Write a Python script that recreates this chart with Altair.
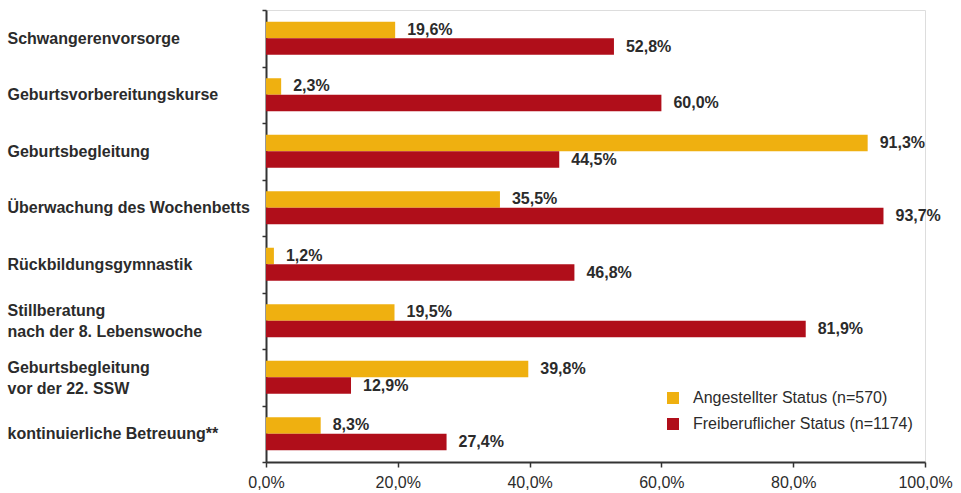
import altair as alt
import pandas as pd

categories = [
    "Schwangerenvorsorge",
    "Geburtsvorbereitungskurse",
    "Geburtsbegleitung",
    "Überwachung des Wochenbetts",
    "Rückbildungsgymnastik",
    "Stillberatung|nach der 8. Lebenswoche",
    "Geburtsbegleitung|vor der 22. SSW",
    "kontinuierliche Betreuung**",
]
series = ["Angestellter Status (n=570)", "Freiberuflicher Status (n=1174)"]
angestellt = [19.6, 2.3, 91.3, 35.5, 1.2, 19.5, 39.8, 8.3]
freiberuflich = [52.8, 60.0, 44.5, 93.7, 46.8, 81.9, 12.9, 27.4]
colors = ["#EFB010", "#B00E1A"]
x_ticks = [0, 20, 40, 60, 80, 100]

rows = []
for c, a, f in zip(categories, angestellt, freiberuflich):
    for s, v in zip(series, [a, f]):
        rows.append({"cat": c, "status": s, "value": v,
                     "label": f"{v:.1f}".replace(".", ",") + "%"})
df = pd.DataFrame(rows)

FONT = "Liberation Sans"
TXT = "#2b2b2b"

y_enc = alt.Y("cat:N", sort=categories,
              scale=alt.Scale(paddingInner=0, paddingOuter=0),
              axis=alt.Axis(title=None, orient="left", labelAlign="left",
                            labelPadding=255, tickSize=4, tickBand="extent",
                            labelFont=FONT, labelFontSize=16, labelFontWeight="bold",
                            labelColor=TXT, labelBaseline="middle", labelLineHeight=21,
                            labelLimit=400,
                            labelOffset=alt.condition("indexof(datum.label, '|') >= 0",
                                                      alt.value(-10), alt.value(0)),
                            labelExpr="split(datum.label, '|')",
                            domainColor="#333333", domainWidth=2,
                            tickColor="#333333", tickWidth=1.5, grid=False))
yoff = alt.YOffset("status:N", sort=series,
                   scale=alt.Scale(paddingInner=0, paddingOuter=0.71))
x_enc = alt.X("value:Q",
              scale=alt.Scale(domain=[0, 100], nice=False),
              axis=alt.Axis(title=None, values=x_ticks, tickSize=5, labelPadding=7,
                            labelFlush=False, labelOverlap=False,
                            labelFont=FONT, labelFontSize=16, labelColor=TXT,
                            labelExpr="replace(format(datum.value, '.1f'), '.', ',') + '%'",
                            domainColor="#333333", domainWidth=2,
                            tickColor="#333333", tickWidth=1.5, grid=False))

bars = alt.Chart(df).mark_bar(size=16.5).encode(
    x=x_enc,
    y=y_enc,
    yOffset=yoff,
    color=alt.Color("status:N", sort=series,
                    scale=alt.Scale(domain=series, range=colors),
                    legend=alt.Legend(title=None, orient="none", legendX=399, legendY=380,
                                      symbolType="square", symbolSize=144,
                                      symbolStrokeWidth=0, labelFont=FONT,
                                      labelFontSize=16, labelColor=TXT, labelLimit=400,
                                      labelOffset=12, rowPadding=10)),
)

labels = alt.Chart(df).mark_text(align="left", baseline="middle", dx=12,
                                 font=FONT, fontSize=16, fontWeight="bold",
                                 color=TXT).encode(
    x="value:Q",
    y=alt.Y("cat:N", sort=categories),
    yOffset=alt.YOffset("status:N", sort=series),
    text="label:N",
)

chart = alt.layer(bars, labels).properties(
    width=659, height=452,
    autosize=alt.AutoSizeParams(type="none"),
    padding={"left": 266, "top": 10, "right": 36, "bottom": 31},
).configure_view(stroke=None).configure(background="white")

chart.save("out.html", embed_options={"renderer": "svg", "actions": False})
